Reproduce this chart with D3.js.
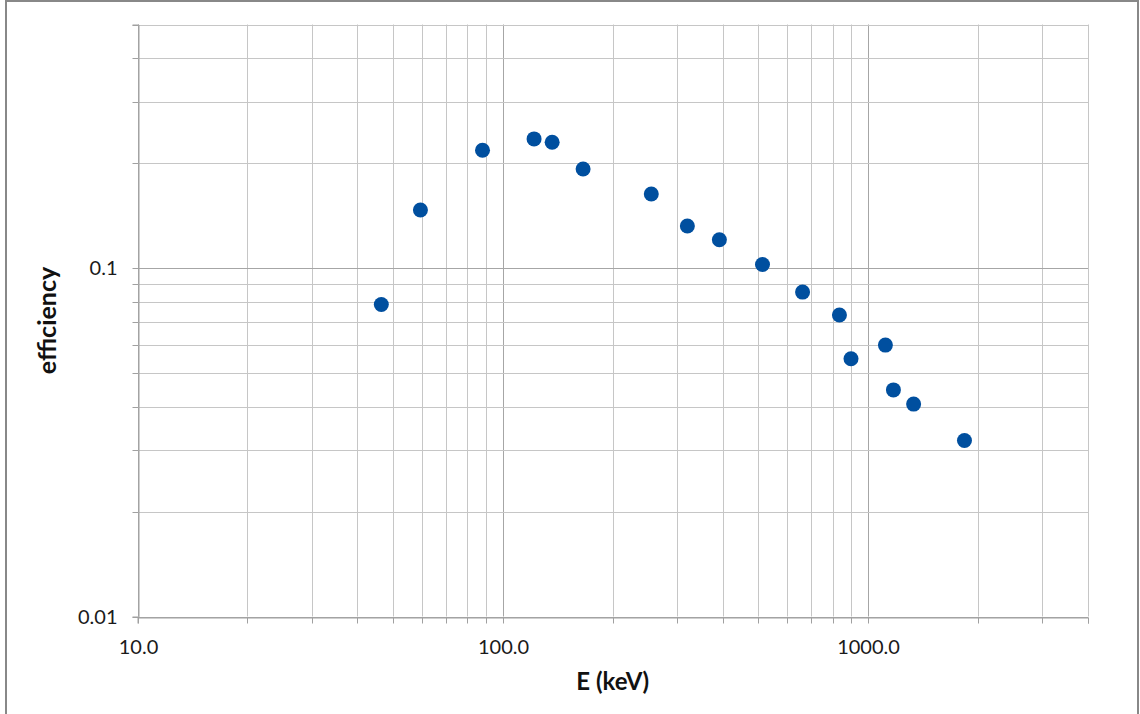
<!DOCTYPE html>
<html>
<head>
<meta charset="utf-8">
<script src="https://cdn.jsdelivr.net/npm/d3@7"></script>
<style>
	body { margin: 0; background: #fff; }
	svg { display: block; font-family: "Lato", "Open Sans", sans-serif; }
</style>
</head>
<body>
<div id="chart"></div>
<script>
const width = 1140;
const height = 714;

// energy (keV) and efficiency
const energies = [46.5, 59.5, 88.0, 121.8, 136.5, 165.9, 255.0, 320.1, 391.7, 514.0, 661.7, 834.8, 898.0, 1115.5, 1173.2, 1332.5, 1836.1];
const efficiencies = [0.0786, 0.1468, 0.2178, 0.2348, 0.2296, 0.1925, 0.1632, 0.1320, 0.1206, 0.1024, 0.0853, 0.0733, 0.0549, 0.0601, 0.0447, 0.0407, 0.0320];

const xLabelTicks = [10, 100, 1000];
const yLabelTicks = [0.01, 0.1];
const xDomain = [10, 4000];
const yDomain = [0.01, 0.5];

const plot = { left: 137.5, right: 1088, top: 24.5, bottom: 616.5 };

let svg = d3
	.select("#chart")
	.append("svg")
	.attr("width", width)
	.attr("height", height);

// outer frame
svg.append("rect")
	.attr("x", 6)
	.attr("y", 1)
	.attr("width", 1132)
	.attr("height", 720)
	.style("fill", "none")
	.style("stroke", "#888")
	.style("stroke-width", 2);

const x = d3.scaleLog().domain(xDomain).range([plot.left, plot.right]);
const y = d3.scaleLog().domain(yDomain).range([plot.bottom, plot.top]);

const isDecade = (v) => Math.abs(Math.log10(v) - Math.round(Math.log10(v))) < 1e-9;

// grid
svg.append("g")
	.selectAll("line")
	.data(x.ticks())
	.join("line")
	.attr("x1", (d) => Math.round(x(d)) + 0.5)
	.attr("x2", (d) => Math.round(x(d)) + 0.5)
	.attr("y1", plot.top)
	.attr("y2", plot.bottom)
	.style("stroke", (d) => (isDecade(d) ? "#a6a6a6" : "#c6c6c6"))
	.style("stroke-width", 1);

svg.append("g")
	.selectAll("line")
	.data(y.ticks())
	.join("line")
	.attr("x1", plot.left)
	.attr("x2", plot.right)
	.attr("y1", (d) => Math.round(y(d)) + 0.5)
	.attr("y2", (d) => Math.round(y(d)) + 0.5)
	.style("stroke", (d) => (isDecade(d) ? "#a6a6a6" : "#c6c6c6"))
	.style("stroke-width", 1);

// axes
const xAxis = d3.axisBottom(x)
	.tickValues(x.ticks())
	.tickSize(6)
	.tickPadding(16)
	.tickFormat((d) => (xLabelTicks.includes(d) ? d3.format(".1f")(d) : ""));

const yAxis = d3.axisLeft(y)
	.tickValues(y.ticks())
	.tickSize(6)
	.tickPadding(15)
	.tickFormat((d) => (yLabelTicks.some((t) => Math.abs(t - d) < 1e-12) ? String(d) : ""));

const gx = svg.append("g")
	.attr("transform", "translate(0," + (Math.round(plot.bottom) + 0.5) + ")")
	.call(xAxis);
const gy = svg.append("g")
	.attr("transform", "translate(" + (Math.round(plot.left) + 0.5) + ",0)")
	.call(yAxis);

[gx, gy].forEach((g) => {
	g.select(".domain").style("stroke", "#a0a0a0");
	g.selectAll(".tick line").style("stroke", "#a0a0a0");
	g.selectAll(".tick text")
		.style("font-size", "20px")
		.style("fill", "#1a1a1a")
		.style("font-family", "Lato, 'Open Sans', sans-serif");
});
gx.selectAll(".tick")
	.attr("transform", (d) => "translate(" + (Math.round(x(d)) + 0.5) + ",0)");
gy.selectAll(".tick")
	.attr("transform", (d) => "translate(0," + (Math.round(y(d)) + 0.5) + ")");

// titles
svg.append("text")
	.attr("x", (plot.left + plot.right) / 2)
	.attr("y", 690)
	.attr("text-anchor", "middle")
	.style("font-size", "24px")
	.style("font-weight", "bold")
	.style("fill", "#111")
	.text("E (keV)");

svg.append("text")
	.attr("transform", "translate(56," + (plot.top + plot.bottom) / 2 + ") rotate(-90)")
	.attr("text-anchor", "middle")
	.style("font-size", "25px")
	.style("font-weight", "bold")
	.style("fill", "#111")
	.text("efficiency");

// points
svg.append("g")
	.selectAll("circle")
	.data(energies.map((e, i) => [e, efficiencies[i]]))
	.join("circle")
	.attr("cx", (d) => x(d[0]))
	.attr("cy", (d) => y(d[1]))
	.attr("r", 7.5)
	.style("fill", "#004f9f");
</script>
</body>
</html>
